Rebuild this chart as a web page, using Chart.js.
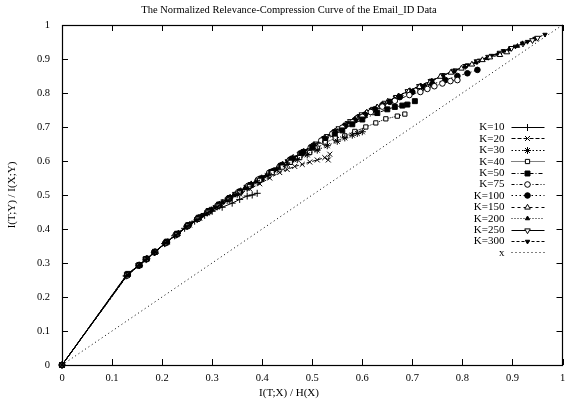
<!DOCTYPE html>
<html><head><meta charset="utf-8">
<script src="https://cdn.jsdelivr.net/npm/chart.js@4"></script>
<style>html,body{margin:0;padding:0;background:#fff}#wrap{width:567px;height:400px}</style>
</head><body><div id="wrap"><canvas id="c" width="567" height="400"></canvas></div>
<script>
const TITLE = "The Normalized Relevance-Compression Curve of the Email_ID Data";
const X_TITLE = "I(T;X) / H(X)";
const Y_TITLE = "I(T;Y) / I(X;Y)";
const X_TICKS = [0,0.1,0.2,0.3,0.4,0.5,0.6,0.7,0.8,0.9,1];
const Y_TICKS = [0,0.1,0.2,0.3,0.4,0.5,0.6,0.7,0.8,0.9,1];
const LABELS = ["K=10","K=20","K=30","K=40","K=50","K=75","K=100","K=150","K=200","K=250","K=300","x"];

const K10 = [[0,0],[0.128,0.262],[0.155,0.293],[0.168,0.31],[0.185,0.331],[0.205,0.357],[0.225,0.38],[0.245,0.402],[0.265,0.423],[0.285,0.44],[0.3,0.452],[0.32,0.464],[0.34,0.476],[0.355,0.487],[0.37,0.497],[0.38,0.5],[0.39,0.505]];
const K20 = [[0,0],[0.131,0.267],[0.152,0.292],[0.17,0.313],[0.188,0.334],[0.21,0.362],[0.232,0.387],[0.255,0.412],[0.275,0.432],[0.295,0.452],[0.315,0.47],[0.335,0.488],[0.355,0.503],[0.375,0.518],[0.395,0.533],[0.415,0.55],[0.435,0.566],[0.45,0.575],[0.465,0.584],[0.48,0.59],[0.495,0.597],[0.51,0.603],[0.525,0.61],[0.532,0.603],[0.535,0.62]];
const K30 = [[0,0],[0.13,0.264],[0.154,0.294],[0.169,0.312],[0.186,0.332],[0.208,0.36],[0.228,0.383],[0.25,0.408],[0.27,0.428],[0.29,0.447],[0.31,0.465],[0.33,0.484],[0.35,0.502],[0.37,0.52],[0.39,0.538],[0.41,0.556],[0.43,0.574],[0.45,0.59],[0.47,0.604],[0.49,0.618],[0.51,0.632],[0.53,0.645],[0.55,0.658],[0.565,0.668],[0.58,0.676],[0.59,0.681],[0.6,0.686]];
const K40 = [[0,0],[0.129,0.266],[0.153,0.293],[0.168,0.311],[0.187,0.333],[0.207,0.359],[0.229,0.384],[0.251,0.409],[0.272,0.43],[0.292,0.45],[0.312,0.468],[0.333,0.487],[0.354,0.506],[0.374,0.525],[0.395,0.543],[0.42,0.566],[0.44,0.582],[0.456,0.596],[0.475,0.61],[0.495,0.625],[0.51,0.638],[0.526,0.654],[0.546,0.667],[0.565,0.674],[0.585,0.687],[0.607,0.7],[0.627,0.712],[0.647,0.724],[0.67,0.732],[0.685,0.738]];
const K50 = [[0,0],[0.132,0.268],[0.155,0.294],[0.167,0.311],[0.186,0.333],[0.21,0.363],[0.23,0.386],[0.252,0.411],[0.273,0.433],[0.293,0.453],[0.314,0.472],[0.335,0.491],[0.356,0.51],[0.377,0.529],[0.398,0.548],[0.418,0.567],[0.438,0.586],[0.458,0.604],[0.478,0.622],[0.5,0.64],[0.526,0.662],[0.545,0.678],[0.56,0.69],[0.58,0.708],[0.6,0.722],[0.63,0.741],[0.65,0.752],[0.665,0.759],[0.68,0.763],[0.69,0.766],[0.705,0.776]];
const K75 = [[0,0],[0.13,0.263],[0.154,0.293],[0.169,0.312],[0.184,0.331],[0.206,0.358],[0.227,0.382],[0.249,0.407],[0.27,0.429],[0.29,0.449],[0.311,0.469],[0.332,0.489],[0.352,0.508],[0.372,0.527],[0.393,0.546],[0.414,0.565],[0.435,0.584],[0.455,0.603],[0.476,0.622],[0.497,0.64],[0.518,0.66],[0.54,0.68],[0.56,0.698],[0.58,0.714],[0.6,0.73],[0.617,0.744],[0.64,0.76],[0.665,0.777],[0.694,0.794],[0.716,0.803],[0.73,0.812],[0.744,0.82],[0.76,0.828],[0.776,0.835],[0.79,0.838]];
const K100 = [[0,0],[0.131,0.265],[0.153,0.292],[0.17,0.313],[0.185,0.332],[0.207,0.359],[0.228,0.383],[0.25,0.408],[0.271,0.43],[0.292,0.451],[0.313,0.471],[0.334,0.491],[0.355,0.51],[0.376,0.529],[0.397,0.548],[0.418,0.568],[0.439,0.588],[0.46,0.607],[0.481,0.626],[0.502,0.645],[0.523,0.665],[0.544,0.685],[0.565,0.703],[0.585,0.72],[0.605,0.736],[0.625,0.752],[0.64,0.764],[0.655,0.774],[0.675,0.788],[0.7,0.803],[0.724,0.818],[0.74,0.826],[0.766,0.838],[0.79,0.85],[0.81,0.858],[0.83,0.868]];
const K150 = [[0,0],[0.129,0.264],[0.155,0.293],[0.168,0.311],[0.186,0.333],[0.209,0.361],[0.23,0.385],[0.252,0.41],[0.273,0.432],[0.294,0.453],[0.315,0.473],[0.336,0.493],[0.357,0.512],[0.378,0.532],[0.399,0.55],[0.42,0.57],[0.441,0.59],[0.462,0.61],[0.483,0.628],[0.504,0.647],[0.525,0.668],[0.546,0.688],[0.567,0.707],[0.588,0.726],[0.609,0.743],[0.63,0.758],[0.651,0.775],[0.672,0.79],[0.693,0.805],[0.714,0.818],[0.735,0.83],[0.756,0.848],[0.777,0.86],[0.798,0.872],[0.819,0.884],[0.84,0.897],[0.855,0.905],[0.875,0.912],[0.889,0.92]];
const K200 = [[0,0],[0.132,0.266],[0.154,0.294],[0.17,0.314],[0.187,0.334],[0.211,0.364],[0.233,0.389],[0.255,0.414],[0.277,0.437],[0.299,0.458],[0.321,0.479],[0.343,0.5],[0.365,0.52],[0.387,0.54],[0.409,0.56],[0.431,0.581],[0.453,0.602],[0.475,0.622],[0.497,0.642],[0.519,0.663],[0.541,0.684],[0.563,0.705],[0.585,0.724],[0.607,0.742],[0.629,0.759],[0.651,0.776],[0.673,0.792],[0.695,0.808],[0.717,0.822],[0.739,0.836],[0.761,0.851],[0.783,0.864],[0.805,0.877],[0.827,0.89],[0.849,0.902],[0.871,0.915],[0.893,0.928],[0.91,0.938],[0.92,0.946]];
const K250 = [[0,0],[0.13,0.266],[0.153,0.293],[0.168,0.312],[0.185,0.332],[0.208,0.36],[0.231,0.387],[0.254,0.413],[0.277,0.437],[0.3,0.459],[0.323,0.481],[0.346,0.503],[0.369,0.524],[0.392,0.545],[0.415,0.566],[0.438,0.588],[0.461,0.609],[0.484,0.629],[0.507,0.651],[0.53,0.673],[0.553,0.696],[0.576,0.717],[0.599,0.737],[0.622,0.753],[0.645,0.771],[0.668,0.788],[0.691,0.805],[0.714,0.82],[0.737,0.835],[0.76,0.851],[0.783,0.865],[0.806,0.879],[0.829,0.893],[0.852,0.906],[0.875,0.918],[0.898,0.932],[0.921,0.945],[0.94,0.955],[0.95,0.962]];
const K300 = [[0,0],[0.131,0.264],[0.155,0.294],[0.17,0.313],[0.186,0.333],[0.21,0.362],[0.234,0.39],[0.258,0.417],[0.282,0.442],[0.306,0.465],[0.33,0.488],[0.354,0.51],[0.378,0.532],[0.402,0.553],[0.426,0.576],[0.45,0.6],[0.474,0.622],[0.498,0.643],[0.522,0.666],[0.546,0.689],[0.57,0.712],[0.594,0.733],[0.618,0.751],[0.642,0.769],[0.666,0.787],[0.69,0.805],[0.714,0.821],[0.738,0.837],[0.762,0.853],[0.786,0.867],[0.81,0.882],[0.834,0.896],[0.858,0.91],[0.882,0.924],[0.906,0.937],[0.93,0.951],[0.945,0.96],[0.965,0.972]];
const DIAG = [[0,0],[1,1]];

const SERIES = [K10,K20,K30,K40,K50,K75,K100,K150,K200,K250,K300,DIAG];
const STYLES = [
  {ps:'cross', r:3.5, fill:'#000', dash:[]},
  {ps:'crossRot', r:3.5, fill:'#000', dash:[4,2]},
  {ps:'star', r:3.5, fill:'#000', dash:[1.5,2]},
  {ps:'rect', r:3, fill:'#fff', dash:[1,1]},
  {ps:'rect', r:3.5, fill:'#000', dash:[4,2,1,2]},
  {ps:'circle', r:2.8, fill:'#fff', dash:[3,2,1,2]},
  {ps:'circle', r:2.8, fill:'#000', dash:[1.5,2.5]},
  {ps:'triangle', r:3.2, fill:'#fff', dash:[3,3]},
  {ps:'triangle', r:2.5, fill:'#000', dash:[1,2]},
  {ps:'triangle', r:3.2, fill:'#fff', dash:[], rot:180},
  {ps:'triangle', r:2.5, fill:'#000', dash:[3,2], rot:180},
  {ps:false, r:0, fill:'#000', dash:[1,3]}
];
const FONT = '"Liberation Serif", "Times New Roman", serif';

const datasets = SERIES.map((d,i)=>({
  label: LABELS[i],
  data: d.map(p=>({x:p[0], y:p[1]})),
  showLine: true,
  borderColor:'#000', borderWidth:1, borderDash: STYLES[i].dash,
  pointStyle: STYLES[i].ps || 'circle', pointRadius: STYLES[i].r, pointRotation: STYLES[i].rot||0,
  pointBackgroundColor: STYLES[i].fill, pointBorderColor:'#000', pointBorderWidth:1,
  pointHoverRadius: STYLES[i].r,
  clip: false, tension: 0
}));

const framePlugin = {
  id:'frame',
  afterDatasetsDraw(chart){
    const ctx = chart.ctx, a = chart.chartArea, xs = chart.scales.x, ys = chart.scales.y;
    ctx.save();
    ctx.strokeStyle='#000'; ctx.lineWidth=1; ctx.setLineDash([]);
    ctx.beginPath();
    const tl = 6;
    X_TICKS.forEach(v=>{ const px = Math.round(xs.getPixelForValue(v))+0.5;
      ctx.moveTo(px, a.bottom); ctx.lineTo(px, a.bottom-tl);
      ctx.moveTo(px, a.top); ctx.lineTo(px, a.top+tl); });
    Y_TICKS.forEach(v=>{ const py = Math.round(ys.getPixelForValue(v))+0.5;
      ctx.moveTo(a.left, py); ctx.lineTo(a.left+tl, py);
      ctx.moveTo(a.right, py); ctx.lineTo(a.right-tl, py); });
    ctx.stroke();
    ctx.lineWidth=1.2;
    ctx.strokeRect(Math.round(a.left)+0.5, Math.round(a.top)+0.5, Math.round(a.right-a.left)-1, Math.round(a.bottom-a.top));
    ctx.restore();
  },
  afterDraw(chart){
    const ctx = chart.ctx, a = chart.chartArea;
    ctx.save();
    ctx.fillStyle='#000';
    ctx.font = '10.5px '+FONT; ctx.textAlign='center'; ctx.textBaseline='middle';
    ctx.fillText(TITLE, 289, 10);
    ctx.font = '11px '+FONT;
    ctx.fillText(X_TITLE, 289, 393);
    ctx.save(); ctx.translate(12, 195); ctx.rotate(-Math.PI/2); ctx.fillText(Y_TITLE, 0, 0); ctx.restore();
    // legend
    ctx.font = '11px '+FONT;
    const tx = a.right - 58, y0 = a.top + 102, dy = 11.4;
    chart.data.datasets.forEach((ds,i)=>{
      const y = y0 + i*dy;
      ctx.fillStyle='#000'; ctx.textAlign='right'; ctx.textBaseline='middle';
      ctx.fillText(ds.label, tx, y+0.5);
      ctx.strokeStyle='#000'; ctx.lineWidth=1; ctx.setLineDash(ds.borderDash||[]);
      ctx.beginPath(); ctx.moveTo(tx+7, Math.round(y)+0.5); ctx.lineTo(tx+40, Math.round(y)+0.5); ctx.stroke();
      ctx.setLineDash([]);
      if (STYLES[i].ps) {
        ctx.fillStyle = ds.pointBackgroundColor; ctx.strokeStyle='#000'; ctx.lineWidth=1;
        Chart.helpers.drawPoint(ctx, {pointStyle: ds.pointStyle, radius: ds.pointRadius, rotation: ds.pointRotation, borderWidth:1}, tx+23, Math.round(y)+0.5);
      }
    });
    ctx.restore();
  }
};

new Chart(document.getElementById('c'), {
  type:'scatter',
  data:{datasets},
  options:{
    responsive:false, animation:false, events:[],
    layout:{padding:{top:25,left:0,right:1,bottom:0}},
    plugins:{legend:{display:false}, title:{display:false}, tooltip:{enabled:false}},
    scales:{
      x:{type:'linear', min:0, max:1,
        grid:{display:false, drawTicks:false}, border:{display:false},
        ticks:{stepSize:0.1, color:'#000', font:{family:FONT, size:10.5}, padding:7, maxRotation:0, autoSkip:false,
          callback:v=>String(Math.round(v*10)/10)},
        afterFit:s=>{s.height=35; s.paddingLeft=0; s.paddingRight=0;}},
      y:{type:'linear', min:0, max:1,
        grid:{display:false, drawTicks:false}, border:{display:false},
        ticks:{stepSize:0.1, color:'#000', font:{family:FONT, size:10.5}, padding:12, autoSkip:false,
          callback:v=>String(Math.round(v*10)/10)},
        afterFit:s=>{s.width=62; s.paddingTop=0; s.paddingBottom=0;}}
    }
  },
  plugins:[framePlugin]
});
</script></body></html>
